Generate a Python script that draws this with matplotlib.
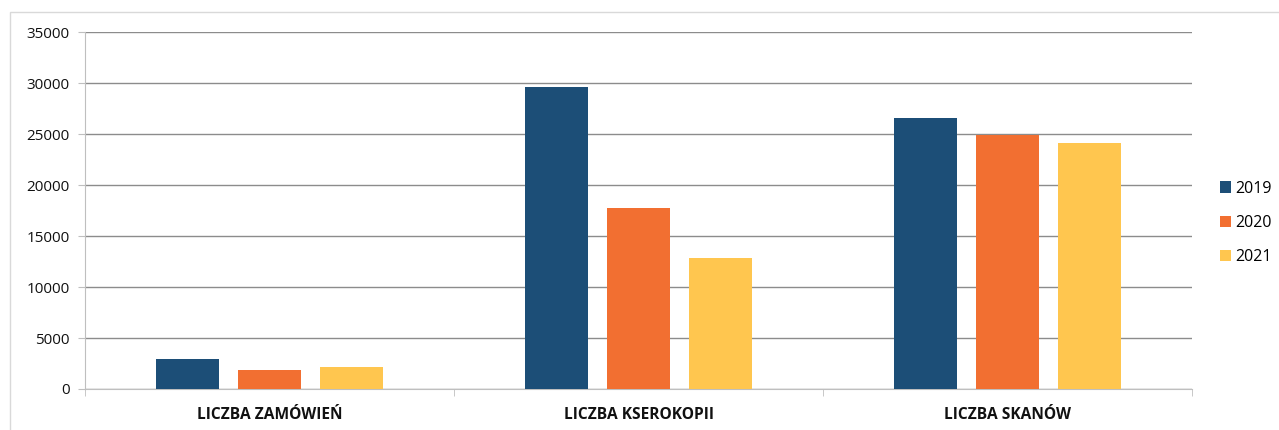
import numpy as np
import matplotlib.pyplot as plt
from matplotlib.patches import Rectangle

categories = ['LICZBA ZAMÓWIEŃ', 'LICZBA KSEROKOPII', 'LICZBA SKANÓW']
years = ['2019', '2020', '2021']
v2019 = [2950, 29600, 26570]
v2020 = [1890, 17730, 24900]
v2021 = [2160, 12860, 24170]
colors = ['#1C4E77', '#F26F31', '#FFC64F']

plt.rcParams['font.family'] = ['Open Sans', 'DejaVu Sans']

fig = plt.figure(figsize=(12.79, 4.30), dpi=100)
# light frame round the chart area (runs off the right and bottom edges)
fig.patches.append(Rectangle((10 / 1279, -0.1), 1.1, 1.1 - 12 / 430,
                             transform=fig.transFigure, fill=False,
                             edgecolor='#d9d9d9', linewidth=1))

ax = fig.add_axes([85 / 1279, (430 - 389) / 430, (1192 - 85) / 1279, (389 - 32.3) / 430])

x = np.arange(len(categories))
w = 0.171
step = 0.222
for i, (vals, yr) in enumerate(zip([v2019, v2020, v2021], years)):
    ax.bar(x + (i - 1) * step, vals, w, color=colors[i], label=yr, zorder=3)

ax.set_xlim(-0.5, 2.5)
ax.set_ylim(0, 35000)
ax.set_yticks(range(0, 35001, 5000))
ax.yaxis.grid(True, color='#8c8c8c', linewidth=1, zorder=0)
ax.set_axisbelow(True)

ax.set_xticks(x)
ax.set_xticklabels(categories, fontweight='bold', fontsize=11.2)
ax.set_xticks([-0.5, 0.5, 1.5, 2.5], minor=True)
ax.tick_params(axis='x', which='major', length=0, pad=13, colors='#111111')
ax.tick_params(axis='x', which='minor', length=5, color='#bfbfbf')
ax.tick_params(axis='y', length=5, color='#bfbfbf', labelsize=11, pad=6,
               labelcolor='#111111')

for s in ['top', 'right']:
    ax.spines[s].set_visible(False)
ax.spines['left'].set_color('#bfbfbf')
ax.spines['bottom'].set_color('#bfbfbf')

ax.legend(loc='center left', bbox_to_anchor=(1220 / 1279, (430 - 223) / 430),
          bbox_transform=fig.transFigure, frameon=False, borderpad=0,
          borderaxespad=0, fontsize=11.5, handlelength=0.7, handleheight=0.7,
          labelspacing=1.15, handletextpad=0.28)

fig.savefig('out.png', dpi=100)
